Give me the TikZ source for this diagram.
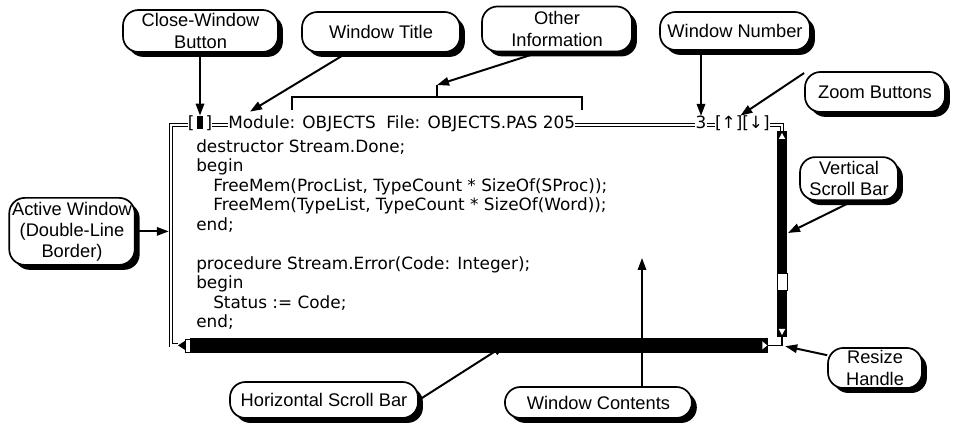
\documentclass[tikz,border=0pt]{standalone}
\usepackage{fontspec}
\setmainfont{Liberation Sans}
\newfontfamily\scrfont{DejaVu Sans}
\usetikzlibrary{positioning,calc,arrows.meta,shadows}

\tikzset{
  callout/.style={draw, line width=1.2pt, rounded corners=11pt, fill=white, align=center,
    font=\fontsize{13}{15}\selectfont, inner sep=2pt,
    drop shadow={shadow xshift=3.5pt, shadow yshift=-3.5pt, fill=black, opacity=1}},
  callarrow/.style={-{Triangle[length=3mm,width=2.1mm]}, line width=1.4pt},
  dbl/.style={double, double distance=1.7pt, line width=0.55pt},
  scr/.style={font=\scrfont\fontsize{12}{13.9}\selectfont, inner sep=0pt},
  sbar/.style={fill=black},
}

\begin{document}
\begin{tikzpicture}
    \useasboundingbox (0,0) rectangle (24.025,10.625);

    % callouts
    \node[callout, minimum width=3.875cm, minimum height=1.05cm] (closebox) at (5.0125,9.85) {Close-Window\\Button};
    \node[callout, minimum width=3.95cm, minimum height=1cm] (titlebox) at (9.525,9.825) {Window Title};
    \node[callout, minimum width=3.75cm, minimum height=1.125cm] (otherbox) at (13.925,9.9) {Other\\Information};
    \node[callout, minimum width=3.75cm, minimum height=0.95cm] (numbox) at (18.375,9.85) {Window Number};
    \node[callout, minimum width=3.5cm, minimum height=1cm] (zoomsbox) at (21.875,8.325) {Zoom Buttons};
    \node[callout, minimum width=2.45cm, minimum height=1.075cm] (vsbox) at (21.225,6.16) {Vertical\\Scroll Bar};
    \node[callout, minimum width=2.9cm, minimum height=1.675cm] (activebox) at (1.8,4.84) {Active Window\\(Double-Line\\Border)};
    \node[callout, minimum width=4.7cm, minimum height=0.9cm] (hsbox) at (8.1,0.625) {Horizontal Scroll Bar};
    \node[callout, minimum width=4.675cm, minimum height=0.775cm] (contbox) at (14.96,0.5625) {Window Contents};
    \node[callout, minimum width=2.35cm, minimum height=1cm] (resizebox) at (21.875,1.425) {Resize\\Handle};

    % title bar
    \node[scr, anchor=mid] (closebtn) at (5.0,7.5) {[\,\rule{4pt}{9pt}\,]};
    \node[scr, anchor=mid west] (title) at (5.7,7.5) {Module: OBJECTS\ \ File: OBJECTS.PAS 205};
    \node[scr, anchor=mid] (winnum) at (17.525,7.5) {3};
    \node[scr, anchor=mid west] (zoombtn) at (17.87,7.5) {[↑][↓]};
    \draw[dbl] (closebtn.mid west) -- (4.275,7.5) -- (4.275,1.99) -- (4.45,1.99);
    \draw[dbl] (closebtn.mid east) -- (title.mid west);
    \draw[dbl] (title.mid east) -- (winnum.mid west);
    \draw[dbl] (winnum.mid east) -- (zoombtn.mid west);
    \draw[dbl] (zoombtn.mid east) -- (19.55,7.5) -- (19.55,7.35);

    % bracket over the file info
    \coordinate (brl) at (7.3,8.2);
    \coordinate (brr) at (14.55,8.2);
    \coordinate (infotick) at ($(brl)!0.5!(brr)+(0,0.3)$);
    \draw[line width=0.9pt] ($(brl)+(0,-0.325)$) -- (brl) -- (brr) -- ++(0,-0.325);
    \draw[line width=0.9pt] ($(brl)!0.5!(brr)$) -- (infotick);

    % window contents
    \node[scr, anchor=north west, align=left] (code) at (4.9,7.15) {destructor Stream.Done;\\
        begin\\
        \hspace*{0.425cm}FreeMem(ProcList, TypeCount * SizeOf(SProc));\\
        \hspace*{0.425cm}FreeMem(TypeList, TypeCount * SizeOf(Word));\\
        end;\\[13.9pt]
        procedure Stream.Error(Code: Integer);\\
        begin\\
        \hspace*{0.425cm}Status := Code;\\
        end;};

    % vertical scroll bar
    \fill[sbar] (19.425,7.35) rectangle (19.675,2.2);
    \draw[fill=white, line width=0.6pt] (19.425,3.8) rectangle (19.675,3.375);
    \fill[white] (19.55,7.3) -- (19.47,7.15) -- (19.63,7.15) -- cycle;
    \fill[white] (19.55,2.25) -- (19.47,2.4) -- (19.63,2.4) -- cycle;

    % horizontal scroll bar
    \fill[sbar] (4.75,2.175) rectangle (19.2,1.8);
    \fill (4.45,1.99) -- (4.62,2.1) -- (4.62,1.88) -- cycle;
    \draw[fill=white, line width=0.6pt] (4.63,2.15) rectangle (4.75,1.82);
    \fill[white] (19.18,1.99) -- (19.06,2.09) -- (19.06,1.89) -- cycle;

    % resize corner
    \coordinate (resize) at (19.55,1.99);
    \draw[line width=0.8pt] (19.2,1.99) -- (resize) -- (19.55,2.2);

    % pointers
    \coordinate (vbarpt) at (19.7,4.8);
    \coordinate (borderpt) at (4.22,4.84);
    \coordinate (hbarpt) at (12.625,2.0);
    \coordinate (contpt) at (16.05,4.175);
    \draw[callarrow] (closebtn.north |- closebox.south) -- (closebtn.north);
    \draw[callarrow] ($(titlebox.south)+(-0.85,0)$) -- ($(title.north west)+(0.55,0.1)$);
    \draw[callarrow] ($(otherbox.south)+(-0.45,0)$) -- (infotick);
    \draw[callarrow] (winnum.north |- numbox.south) -- (winnum.north);
    \draw[callarrow] (zoomsbox.165) -- ($(zoombtn.north)+(-0.05,0)$);
    \draw[callarrow] ($(vsbox.south)+(0.1,0)$) -- (vbarpt);
    \draw[callarrow] (activebox.east) -- (borderpt);
    \draw[callarrow] (hsbox.east) -- (hbarpt);
    \draw[callarrow] (contpt |- contbox.north) -- (contpt);
    \draw[callarrow] (resizebox.165) -- ($(resize)+(0.08,-0.02)$);
\end{tikzpicture}
\end{document}
